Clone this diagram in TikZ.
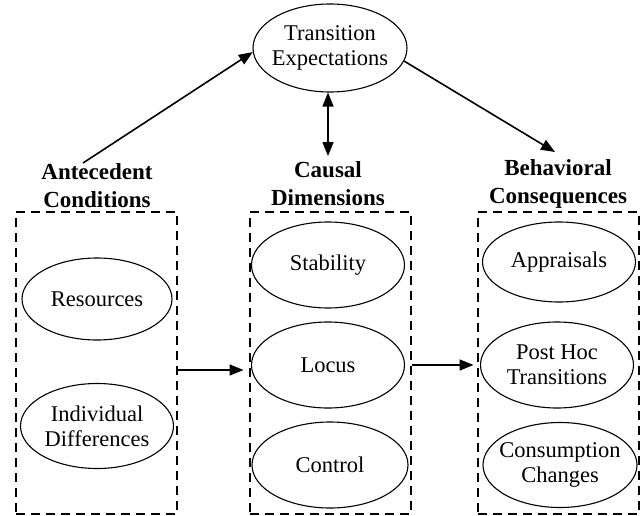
\documentclass[tikz,border=0pt]{standalone}
\usepackage{fontspec}
\setmainfont{Liberation Serif}
\usetikzlibrary{arrows.meta,shapes.geometric}
\begin{document}
\begin{tikzpicture}[x=1pt,y=-1pt,
	oval/.style={ellipse,draw,line width=1.1pt,minimum width=153pt,minimum height=85pt,align=center,inner sep=-8pt,font=\rmfamily\fontsize{22.5}{25}\selectfont},
	group/.style={draw,line width=2pt,dash pattern=on 9pt off 6pt,minimum width=161pt,minimum height=302pt,inner sep=0pt},
	heading/.style={align=center,font=\rmfamily\fontsize{23}{28}\selectfont\bfseries},
	arr/.style={line width=1.6pt,-{Triangle[length=14pt,width=11pt]}},
	dblarr/.style={line width=1.6pt,{Triangle[length=14pt,width=11pt]}-{Triangle[length=14pt,width=11pt]}}]

			\useasboundingbox (0,0) rectangle (642,516);

			% the three groups
			\node[group] (AC) at (96,363) {};
			\node[group] (CD) at (330,363) {};
			\node[group] (BC) at (558,363) {};

			\node[heading] (ACt) at (97,186) {Antecedent\\Conditions};
			\node[heading] (CDt) at (328,184) {Causal\\Dimensions};
			\node[heading] (BCt) at (558,184) {Behavioral\\Consequences};

			% ovals
			\node[oval,minimum width=154pt,minimum height=88pt] (TE) at (330,48) {Transition\\Expectations};

			\node[oval,minimum width=150pt,minimum height=82pt] (Res) at (97,299) {Resources};
			\node[oval] (Ind) at (97,426) {Individual\\Differences};

			\node[oval,minimum height=86pt] (Stab) at (328,265) {Stability};
			\node[oval,minimum height=86pt] (Loc) at (328,365) {Locus};
			\node[oval,minimum width=156pt,minimum height=86pt] (Con) at (330,465) {Control};

			\node[oval,minimum height=80pt] (App) at (559,262) {Appraisals};
			\node[oval,minimum height=86pt] (PH) at (557,365) {Post Hoc\\Transitions};
			\node[oval,minimum width=154pt,minimum height=85pt] (CC) at (560,465) {Consumption\\Changes};

			% arrows
			\coordinate (s1) at (83,163);
			\coordinate (s2) at (555,152);
			\coordinate (s3) at (328,156);

			\draw[arr] (s1) -- (TE.183);
			\draw[arr] (TE.-10) -- (s2);
			\draw[dblarr] (TE.south -| s3) -- (s3);

			\draw[arr] ([yshift=-7pt]AC.east) -- ([xshift=-5pt,yshift=-7pt]CD.west);
			\draw[arr] ([yshift=-2pt]CD.east) -- ([xshift=-3pt,yshift=-2pt]BC.west);
		\end{tikzpicture}
\end{document}
